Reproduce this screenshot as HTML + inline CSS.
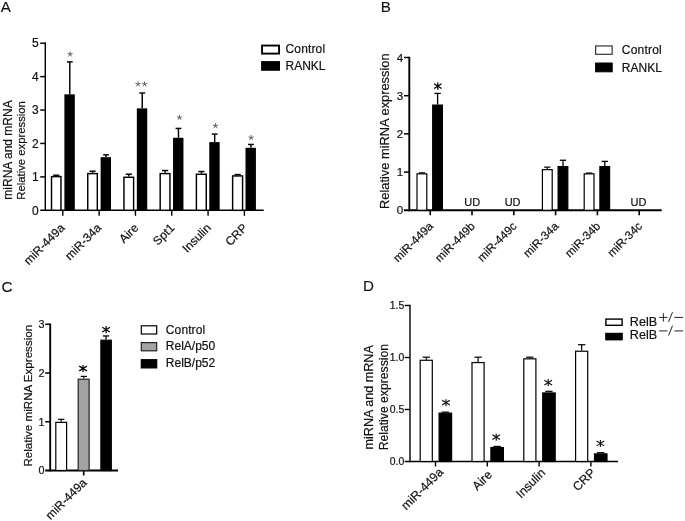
<!DOCTYPE html>
<html><head><meta charset="utf-8"><title>Figure</title>
<style>
html,body{margin:0;padding:0;background:#fff;}
body{width:685px;height:521px;overflow:hidden;font-family:"Liberation Sans",sans-serif;}
svg{display:block;will-change:transform;transform:translateZ(0);}
svg text{font-family:"Liberation Sans",sans-serif;stroke:#111;stroke-width:0.2px;}
</style></head><body>
<svg width="685" height="521" viewBox="0 0 685 521">
<rect x="0" y="0" width="685" height="521" fill="#fff"/>
<text x="0.80" y="12.10" font-size="15.2" text-anchor="start" fill="#111" stroke-width="0.1" style="stroke-width:0.1px">A</text>
<line x1="45.30" y1="42.47" x2="45.30" y2="211.03" stroke="#000" stroke-width="1.45"/>
<line x1="40.20" y1="210.30" x2="263.70" y2="210.30" stroke="#000" stroke-width="1.45"/>
<text x="38.80" y="214.50" font-size="12" text-anchor="end" fill="#111" >0</text>
<line x1="40.20" y1="176.88" x2="45.30" y2="176.88" stroke="#000" stroke-width="1.45"/>
<text x="38.80" y="181.08" font-size="12" text-anchor="end" fill="#111" >1</text>
<line x1="40.20" y1="143.46" x2="45.30" y2="143.46" stroke="#000" stroke-width="1.45"/>
<text x="38.80" y="147.66" font-size="12" text-anchor="end" fill="#111" >2</text>
<line x1="40.20" y1="110.04" x2="45.30" y2="110.04" stroke="#000" stroke-width="1.45"/>
<text x="38.80" y="114.24" font-size="12" text-anchor="end" fill="#111" >3</text>
<line x1="40.20" y1="76.62" x2="45.30" y2="76.62" stroke="#000" stroke-width="1.45"/>
<text x="38.80" y="80.82" font-size="12" text-anchor="end" fill="#111" >4</text>
<line x1="40.20" y1="43.20" x2="45.30" y2="43.20" stroke="#000" stroke-width="1.45"/>
<text x="38.80" y="47.40" font-size="12" text-anchor="end" fill="#111" >5</text>
<text transform="translate(12.30,150.00) rotate(-90)" font-size="12" text-anchor="middle" fill="#111" >miRNA and mRNA</text>
<text transform="translate(25.00,150.40) rotate(-90)" font-size="11.3" text-anchor="middle" fill="#111" >Relative expression</text>
<line x1="62.80" y1="210.30" x2="62.80" y2="215.80" stroke="#000" stroke-width="1.4"/>
<rect x="51.52" y="176.60" width="9.45" height="33.70" fill="#fff" stroke="#000" stroke-width="1.45"/>
<line x1="56.30" y1="175.21" x2="56.30" y2="175.88" stroke="#000" stroke-width="1.45"/>
<line x1="53.20" y1="175.21" x2="59.40" y2="175.21" stroke="#000" stroke-width="1.45"/>
<rect x="65.12" y="95.06" width="8.95" height="115.24" fill="#000" stroke="#000" stroke-width="1.45"/>
<line x1="69.80" y1="61.92" x2="69.80" y2="94.33" stroke="#000" stroke-width="1.45"/>
<line x1="66.90" y1="61.92" x2="72.70" y2="61.92" stroke="#000" stroke-width="1.45"/>
<line x1="70.10" y1="54.20" x2="70.10" y2="51.50" stroke="#444" stroke-width="0.85"/>
<line x1="70.10" y1="54.20" x2="72.67" y2="53.37" stroke="#444" stroke-width="0.85"/>
<line x1="70.10" y1="54.20" x2="71.69" y2="56.38" stroke="#444" stroke-width="0.85"/>
<line x1="70.10" y1="54.20" x2="68.51" y2="56.38" stroke="#444" stroke-width="0.85"/>
<line x1="70.10" y1="54.20" x2="67.53" y2="53.37" stroke="#444" stroke-width="0.85"/>
<text transform="translate(65.50,228.60) rotate(-45)" font-size="12" text-anchor="end" fill="#111" >miR-449a</text>
<line x1="99.12" y1="210.30" x2="99.12" y2="215.80" stroke="#000" stroke-width="1.4"/>
<rect x="87.75" y="173.59" width="9.55" height="36.71" fill="#fff" stroke="#000" stroke-width="1.45"/>
<line x1="92.57" y1="171.20" x2="92.57" y2="172.87" stroke="#000" stroke-width="1.45"/>
<line x1="89.47" y1="171.20" x2="95.67" y2="171.20" stroke="#000" stroke-width="1.45"/>
<rect x="101.34" y="157.89" width="8.95" height="52.41" fill="#000" stroke="#000" stroke-width="1.45"/>
<line x1="106.02" y1="154.82" x2="106.02" y2="157.16" stroke="#000" stroke-width="1.45"/>
<line x1="103.12" y1="154.82" x2="108.92" y2="154.82" stroke="#000" stroke-width="1.45"/>
<text transform="translate(102.02,228.60) rotate(-45)" font-size="12" text-anchor="end" fill="#111" >miR-34a</text>
<line x1="135.44" y1="210.30" x2="135.44" y2="215.80" stroke="#000" stroke-width="1.4"/>
<rect x="123.96" y="177.27" width="9.65" height="33.03" fill="#fff" stroke="#000" stroke-width="1.45"/>
<line x1="128.84" y1="174.21" x2="128.84" y2="176.55" stroke="#000" stroke-width="1.45"/>
<line x1="125.74" y1="174.21" x2="131.94" y2="174.21" stroke="#000" stroke-width="1.45"/>
<rect x="137.56" y="109.09" width="8.95" height="101.21" fill="#000" stroke="#000" stroke-width="1.45"/>
<line x1="142.24" y1="93.00" x2="142.24" y2="108.37" stroke="#000" stroke-width="1.45"/>
<line x1="139.34" y1="93.00" x2="145.14" y2="93.00" stroke="#000" stroke-width="1.45"/>
<line x1="138.00" y1="84.20" x2="138.00" y2="81.50" stroke="#444" stroke-width="0.85"/>
<line x1="138.00" y1="84.20" x2="140.57" y2="83.37" stroke="#444" stroke-width="0.85"/>
<line x1="138.00" y1="84.20" x2="139.59" y2="86.38" stroke="#444" stroke-width="0.85"/>
<line x1="138.00" y1="84.20" x2="136.41" y2="86.38" stroke="#444" stroke-width="0.85"/>
<line x1="138.00" y1="84.20" x2="135.43" y2="83.37" stroke="#444" stroke-width="0.85"/>
<line x1="144.60" y1="84.20" x2="144.60" y2="81.50" stroke="#444" stroke-width="0.85"/>
<line x1="144.60" y1="84.20" x2="147.17" y2="83.37" stroke="#444" stroke-width="0.85"/>
<line x1="144.60" y1="84.20" x2="146.19" y2="86.38" stroke="#444" stroke-width="0.85"/>
<line x1="144.60" y1="84.20" x2="143.01" y2="86.38" stroke="#444" stroke-width="0.85"/>
<line x1="144.60" y1="84.20" x2="142.03" y2="83.37" stroke="#444" stroke-width="0.85"/>
<text transform="translate(139.14,228.60) rotate(-45)" font-size="12" text-anchor="end" fill="#111" >Aire</text>
<line x1="171.76" y1="210.30" x2="171.76" y2="215.80" stroke="#000" stroke-width="1.4"/>
<rect x="160.18" y="173.59" width="9.75" height="36.71" fill="#fff" stroke="#000" stroke-width="1.45"/>
<line x1="165.11" y1="170.53" x2="165.11" y2="172.87" stroke="#000" stroke-width="1.45"/>
<line x1="162.01" y1="170.53" x2="168.21" y2="170.53" stroke="#000" stroke-width="1.45"/>
<rect x="173.78" y="138.50" width="8.95" height="71.80" fill="#000" stroke="#000" stroke-width="1.45"/>
<line x1="178.46" y1="128.42" x2="178.46" y2="137.78" stroke="#000" stroke-width="1.45"/>
<line x1="175.56" y1="128.42" x2="181.36" y2="128.42" stroke="#000" stroke-width="1.45"/>
<line x1="179.50" y1="117.60" x2="179.50" y2="114.90" stroke="#444" stroke-width="0.85"/>
<line x1="179.50" y1="117.60" x2="182.07" y2="116.77" stroke="#444" stroke-width="0.85"/>
<line x1="179.50" y1="117.60" x2="181.09" y2="119.78" stroke="#444" stroke-width="0.85"/>
<line x1="179.50" y1="117.60" x2="177.91" y2="119.78" stroke="#444" stroke-width="0.85"/>
<line x1="179.50" y1="117.60" x2="176.93" y2="116.77" stroke="#444" stroke-width="0.85"/>
<text transform="translate(175.26,228.60) rotate(-45)" font-size="12" text-anchor="end" fill="#111" >Spt1</text>
<line x1="208.08" y1="210.30" x2="208.08" y2="215.80" stroke="#000" stroke-width="1.4"/>
<rect x="196.40" y="174.26" width="9.85" height="36.04" fill="#fff" stroke="#000" stroke-width="1.45"/>
<line x1="201.38" y1="171.53" x2="201.38" y2="173.54" stroke="#000" stroke-width="1.45"/>
<line x1="198.28" y1="171.53" x2="204.48" y2="171.53" stroke="#000" stroke-width="1.45"/>
<rect x="210.00" y="142.85" width="8.95" height="67.45" fill="#000" stroke="#000" stroke-width="1.45"/>
<line x1="214.68" y1="134.10" x2="214.68" y2="142.12" stroke="#000" stroke-width="1.45"/>
<line x1="211.78" y1="134.10" x2="217.58" y2="134.10" stroke="#000" stroke-width="1.45"/>
<line x1="215.50" y1="125.90" x2="215.50" y2="123.20" stroke="#444" stroke-width="0.85"/>
<line x1="215.50" y1="125.90" x2="218.07" y2="125.07" stroke="#444" stroke-width="0.85"/>
<line x1="215.50" y1="125.90" x2="217.09" y2="128.08" stroke="#444" stroke-width="0.85"/>
<line x1="215.50" y1="125.90" x2="213.91" y2="128.08" stroke="#444" stroke-width="0.85"/>
<line x1="215.50" y1="125.90" x2="212.93" y2="125.07" stroke="#444" stroke-width="0.85"/>
<text transform="translate(211.68,228.60) rotate(-45)" font-size="12" text-anchor="end" fill="#111" >Insulin</text>
<line x1="244.40" y1="210.30" x2="244.40" y2="215.80" stroke="#000" stroke-width="1.4"/>
<rect x="232.62" y="175.93" width="9.95" height="34.37" fill="#fff" stroke="#000" stroke-width="1.45"/>
<line x1="237.65" y1="174.54" x2="237.65" y2="175.21" stroke="#000" stroke-width="1.45"/>
<line x1="234.55" y1="174.54" x2="240.75" y2="174.54" stroke="#000" stroke-width="1.45"/>
<rect x="246.22" y="148.53" width="8.95" height="61.77" fill="#000" stroke="#000" stroke-width="1.45"/>
<line x1="250.90" y1="144.46" x2="250.90" y2="147.80" stroke="#000" stroke-width="1.45"/>
<line x1="248.00" y1="144.46" x2="253.80" y2="144.46" stroke="#000" stroke-width="1.45"/>
<line x1="251.10" y1="137.70" x2="251.10" y2="135.00" stroke="#444" stroke-width="0.85"/>
<line x1="251.10" y1="137.70" x2="253.67" y2="136.87" stroke="#444" stroke-width="0.85"/>
<line x1="251.10" y1="137.70" x2="252.69" y2="139.88" stroke="#444" stroke-width="0.85"/>
<line x1="251.10" y1="137.70" x2="249.51" y2="139.88" stroke="#444" stroke-width="0.85"/>
<line x1="251.10" y1="137.70" x2="248.53" y2="136.87" stroke="#444" stroke-width="0.85"/>
<text transform="translate(248.10,228.60) rotate(-45)" font-size="12" text-anchor="end" fill="#111" >CRP</text>
<rect x="262.05" y="45.55" width="17.00" height="8.05" fill="#fff" stroke="#000" stroke-width="1.9"/>
<rect x="261.90" y="61.90" width="17.30" height="8.10" fill="#000" stroke="#000" stroke-width="1.6"/>
<text x="285.50" y="53.20" font-size="12" text-anchor="start" fill="#111" textLength="39.6">Control</text>
<text x="285.50" y="69.60" font-size="12" text-anchor="start" fill="#111" >RANKL</text>
<text x="380.70" y="12.10" font-size="15.2" text-anchor="start" fill="#111" style="stroke-width:0.1px">B</text>
<line x1="409.30" y1="56.80" x2="409.30" y2="211.25" stroke="#000" stroke-width="1.9"/>
<line x1="404.00" y1="210.30" x2="661.70" y2="210.30" stroke="#000" stroke-width="1.9"/>
<text x="403.20" y="214.45" font-size="11.6" text-anchor="end" fill="#111" >0</text>
<line x1="404.00" y1="172.10" x2="409.30" y2="172.10" stroke="#000" stroke-width="1.5"/>
<text x="403.20" y="176.25" font-size="11.6" text-anchor="end" fill="#111" >1</text>
<line x1="404.00" y1="133.90" x2="409.30" y2="133.90" stroke="#000" stroke-width="1.5"/>
<text x="403.20" y="138.05" font-size="11.6" text-anchor="end" fill="#111" >2</text>
<line x1="404.00" y1="95.70" x2="409.30" y2="95.70" stroke="#000" stroke-width="1.5"/>
<text x="403.20" y="99.85" font-size="11.6" text-anchor="end" fill="#111" >3</text>
<line x1="404.00" y1="57.50" x2="409.30" y2="57.50" stroke="#000" stroke-width="1.5"/>
<text x="403.20" y="61.65" font-size="11.6" text-anchor="end" fill="#111" >4</text>
<text transform="translate(388.80,131.20) rotate(-90)" font-size="12.85" text-anchor="middle" fill="#111" >Relative miRNA expression</text>
<line x1="430.20" y1="210.30" x2="430.20" y2="215.30" stroke="#000" stroke-width="1.6"/>
<rect x="417.00" y="173.85" width="9.80" height="36.45" fill="#fff" stroke="#000" stroke-width="1.2"/>
<line x1="421.90" y1="172.86" x2="421.90" y2="173.25" stroke="#000" stroke-width="1.2"/>
<line x1="418.70" y1="172.86" x2="425.10" y2="172.86" stroke="#000" stroke-width="1.2"/>
<rect x="432.70" y="105.09" width="9.70" height="105.21" fill="#000" stroke="#000" stroke-width="1.2"/>
<line x1="437.60" y1="93.41" x2="437.60" y2="104.49" stroke="#000" stroke-width="1.3"/>
<line x1="434.40" y1="93.41" x2="440.80" y2="93.41" stroke="#000" stroke-width="1.3"/>
<text transform="translate(433.90,226.80) rotate(-45)" font-size="11.7" text-anchor="end" fill="#111" >miR-449a</text>
<line x1="472.00" y1="210.30" x2="472.00" y2="215.30" stroke="#000" stroke-width="1.6"/>
<text x="472.30" y="205.90" font-size="11" text-anchor="middle" fill="#111" >UD</text>
<text transform="translate(475.70,226.80) rotate(-45)" font-size="11.7" text-anchor="end" fill="#111" >miR-449b</text>
<line x1="513.80" y1="210.30" x2="513.80" y2="215.30" stroke="#000" stroke-width="1.6"/>
<text x="512.60" y="205.90" font-size="11" text-anchor="middle" fill="#111" >UD</text>
<text transform="translate(517.50,226.80) rotate(-45)" font-size="11.7" text-anchor="end" fill="#111" >miR-449c</text>
<line x1="555.60" y1="210.30" x2="555.60" y2="215.30" stroke="#000" stroke-width="1.6"/>
<rect x="542.40" y="169.64" width="9.80" height="40.66" fill="#fff" stroke="#000" stroke-width="1.2"/>
<line x1="547.30" y1="167.13" x2="547.30" y2="169.04" stroke="#000" stroke-width="1.2"/>
<line x1="544.10" y1="167.13" x2="550.50" y2="167.13" stroke="#000" stroke-width="1.2"/>
<rect x="558.10" y="166.59" width="9.70" height="43.71" fill="#000" stroke="#000" stroke-width="1.2"/>
<line x1="563.00" y1="160.26" x2="563.00" y2="165.99" stroke="#000" stroke-width="1.3"/>
<line x1="559.80" y1="160.26" x2="566.20" y2="160.26" stroke="#000" stroke-width="1.3"/>
<text transform="translate(559.30,226.80) rotate(-45)" font-size="11.7" text-anchor="end" fill="#111" >miR-34a</text>
<line x1="597.40" y1="210.30" x2="597.40" y2="215.30" stroke="#000" stroke-width="1.6"/>
<rect x="584.20" y="173.85" width="9.80" height="36.45" fill="#fff" stroke="#000" stroke-width="1.2"/>
<line x1="589.10" y1="173.06" x2="589.10" y2="173.25" stroke="#000" stroke-width="1.2"/>
<line x1="585.90" y1="173.06" x2="592.30" y2="173.06" stroke="#000" stroke-width="1.2"/>
<rect x="599.90" y="166.59" width="9.70" height="43.71" fill="#000" stroke="#000" stroke-width="1.2"/>
<line x1="604.80" y1="161.40" x2="604.80" y2="165.99" stroke="#000" stroke-width="1.3"/>
<line x1="601.60" y1="161.40" x2="608.00" y2="161.40" stroke="#000" stroke-width="1.3"/>
<text transform="translate(601.10,226.80) rotate(-45)" font-size="11.7" text-anchor="end" fill="#111" >miR-34b</text>
<line x1="639.20" y1="210.30" x2="639.20" y2="215.30" stroke="#000" stroke-width="1.6"/>
<text x="638.50" y="205.90" font-size="11" text-anchor="middle" fill="#111" >UD</text>
<text transform="translate(642.90,226.80) rotate(-45)" font-size="11.7" text-anchor="end" fill="#111" >miR-34c</text>
<line x1="437.80" y1="82.50" x2="437.80" y2="89.70" stroke="#000" stroke-width="1.3"/>
<line x1="434.07" y1="83.77" x2="441.53" y2="88.43" stroke="#000" stroke-width="1.3"/>
<line x1="434.07" y1="88.43" x2="441.53" y2="83.77" stroke="#000" stroke-width="1.3"/>
<rect x="595.65" y="45.95" width="16.50" height="8.35" fill="#fff" stroke="#222" stroke-width="1.1"/>
<rect x="595.60" y="63.00" width="16.60" height="8.80" fill="#000" stroke="#000" stroke-width="1.0"/>
<text x="621.80" y="54.40" font-size="12" text-anchor="start" fill="#111" textLength="39.9">Control</text>
<text x="621.80" y="71.60" font-size="12" text-anchor="start" fill="#111" >RANKL</text>
<text x="1.40" y="291.50" font-size="15.2" text-anchor="start" fill="#111" style="stroke-width:0.1px">C</text>
<line x1="50.20" y1="323.55" x2="50.20" y2="471.45" stroke="#000" stroke-width="1.9"/>
<line x1="45.20" y1="470.50" x2="118.00" y2="470.50" stroke="#000" stroke-width="1.9"/>
<text x="44.60" y="474.40" font-size="10.8" text-anchor="end" fill="#111" >0</text>
<line x1="45.20" y1="421.75" x2="50.20" y2="421.75" stroke="#000" stroke-width="1.5"/>
<text x="44.60" y="425.65" font-size="10.8" text-anchor="end" fill="#111" >1</text>
<line x1="45.20" y1="373.00" x2="50.20" y2="373.00" stroke="#000" stroke-width="1.5"/>
<text x="44.60" y="376.90" font-size="10.8" text-anchor="end" fill="#111" >2</text>
<line x1="45.20" y1="324.25" x2="50.20" y2="324.25" stroke="#000" stroke-width="1.5"/>
<text x="44.60" y="328.15" font-size="10.8" text-anchor="end" fill="#111" >3</text>
<text transform="translate(31.70,395.70) rotate(-90)" font-size="11.6" text-anchor="middle" fill="#111" >Relative miRNA Expression</text>
<line x1="83.70" y1="470.50" x2="83.70" y2="475.50" stroke="#000" stroke-width="1.6"/>
<rect x="55.80" y="422.35" width="10.80" height="48.15" fill="#fff" stroke="#000" stroke-width="1.2"/>
<line x1="61.20" y1="419.31" x2="61.20" y2="421.75" stroke="#000" stroke-width="1.2"/>
<line x1="58.10" y1="419.31" x2="64.30" y2="419.31" stroke="#000" stroke-width="1.2"/>
<rect x="78.20" y="379.21" width="10.90" height="91.29" fill="#a3a3a3" stroke="#222" stroke-width="1.2"/>
<line x1="83.80" y1="376.41" x2="83.80" y2="378.61" stroke="#000" stroke-width="1.2"/>
<line x1="80.70" y1="376.41" x2="86.90" y2="376.41" stroke="#000" stroke-width="1.2"/>
<rect x="100.90" y="340.21" width="10.40" height="130.29" fill="#000" stroke="#000" stroke-width="1.2"/>
<line x1="106.00" y1="335.95" x2="106.00" y2="339.61" stroke="#000" stroke-width="1.3"/>
<line x1="102.90" y1="335.95" x2="109.10" y2="335.95" stroke="#000" stroke-width="1.3"/>
<line x1="83.00" y1="364.90" x2="83.00" y2="372.10" stroke="#000" stroke-width="1.25"/>
<line x1="79.18" y1="366.12" x2="86.82" y2="370.88" stroke="#000" stroke-width="1.25"/>
<line x1="79.18" y1="370.88" x2="86.82" y2="366.12" stroke="#000" stroke-width="1.25"/>
<line x1="106.10" y1="326.10" x2="106.10" y2="333.30" stroke="#000" stroke-width="1.25"/>
<line x1="102.28" y1="327.32" x2="109.92" y2="332.08" stroke="#000" stroke-width="1.25"/>
<line x1="102.28" y1="332.08" x2="109.92" y2="327.32" stroke="#000" stroke-width="1.25"/>
<text transform="translate(87.40,483.40) rotate(-45)" font-size="12" text-anchor="end" fill="#111" >miR-449a</text>
<rect x="141.30" y="325.80" width="15.40" height="8.20" fill="#fff" stroke="#000" stroke-width="1.2"/>
<rect x="141.30" y="342.60" width="15.40" height="8.20" fill="#a3a3a3" stroke="#222" stroke-width="1.2"/>
<rect x="141.30" y="359.70" width="15.40" height="8.20" fill="#000" stroke="#000" stroke-width="1.2"/>
<text x="165.80" y="334.00" font-size="12" text-anchor="start" fill="#111" textLength="39.4">Control</text>
<text x="165.80" y="350.40" font-size="12" text-anchor="start" fill="#111" >RelA/p50</text>
<text x="165.80" y="367.20" font-size="12" text-anchor="start" fill="#111" >RelB/p52</text>
<text x="363.10" y="291.20" font-size="15.2" text-anchor="start" fill="#111" style="stroke-width:0.1px">D</text>
<line x1="410.00" y1="304.80" x2="410.00" y2="462.20" stroke="#000" stroke-width="1.4"/>
<line x1="404.60" y1="461.50" x2="618.00" y2="461.50" stroke="#000" stroke-width="1.4"/>
<text x="404.30" y="465.05" font-size="10.4" text-anchor="end" fill="#111" >0.0</text>
<line x1="404.60" y1="409.50" x2="410.00" y2="409.50" stroke="#000" stroke-width="1.4"/>
<text x="404.30" y="413.05" font-size="10.4" text-anchor="end" fill="#111" >0.5</text>
<line x1="404.60" y1="357.50" x2="410.00" y2="357.50" stroke="#000" stroke-width="1.4"/>
<text x="404.30" y="361.05" font-size="10.4" text-anchor="end" fill="#111" >1.0</text>
<line x1="404.60" y1="305.50" x2="410.00" y2="305.50" stroke="#000" stroke-width="1.4"/>
<text x="404.30" y="309.05" font-size="10.4" text-anchor="end" fill="#111" >1.5</text>
<text transform="translate(373.20,397.30) rotate(-90)" font-size="12.6" text-anchor="middle" fill="#111" >miRNA and mRNA</text>
<text transform="translate(387.50,397.20) rotate(-90)" font-size="12.2" text-anchor="middle" fill="#111" >Relative expression</text>
<line x1="435.50" y1="461.50" x2="435.50" y2="466.50" stroke="#000" stroke-width="1.4"/>
<rect x="420.20" y="360.28" width="12.10" height="101.22" fill="#fff" stroke="#000" stroke-width="1.2"/>
<line x1="426.30" y1="357.19" x2="426.30" y2="359.68" stroke="#000" stroke-width="1.2"/>
<line x1="422.60" y1="357.19" x2="430.00" y2="357.19" stroke="#000" stroke-width="1.2"/>
<rect x="439.10" y="413.12" width="12.50" height="48.38" fill="#000" stroke="#000" stroke-width="1.2"/>
<line x1="445.30" y1="412.10" x2="445.30" y2="412.52" stroke="#000" stroke-width="1.2"/>
<line x1="441.60" y1="412.10" x2="449.00" y2="412.10" stroke="#000" stroke-width="1.2"/>
<line x1="446.00" y1="399.22" x2="446.00" y2="406.22" stroke="#111" stroke-width="1.15"/>
<line x1="442.18" y1="400.33" x2="449.82" y2="405.10" stroke="#111" stroke-width="1.15"/>
<line x1="442.18" y1="405.10" x2="449.82" y2="400.33" stroke="#111" stroke-width="1.15"/>
<text transform="translate(444.00,472.90) rotate(-45)" font-size="12.3" text-anchor="end" fill="#111" >miR-449a</text>
<line x1="487.30" y1="461.50" x2="487.30" y2="466.50" stroke="#000" stroke-width="1.4"/>
<rect x="472.00" y="362.57" width="12.10" height="98.93" fill="#fff" stroke="#000" stroke-width="1.2"/>
<line x1="478.10" y1="357.19" x2="478.10" y2="361.97" stroke="#000" stroke-width="1.2"/>
<line x1="474.40" y1="357.19" x2="481.80" y2="357.19" stroke="#000" stroke-width="1.2"/>
<rect x="490.90" y="447.54" width="12.50" height="13.96" fill="#000" stroke="#000" stroke-width="1.2"/>
<line x1="497.10" y1="446.42" x2="497.10" y2="446.94" stroke="#000" stroke-width="1.2"/>
<line x1="493.40" y1="446.42" x2="500.80" y2="446.42" stroke="#000" stroke-width="1.2"/>
<line x1="496.20" y1="433.64" x2="496.20" y2="440.64" stroke="#111" stroke-width="1.15"/>
<line x1="492.38" y1="434.76" x2="500.02" y2="439.52" stroke="#111" stroke-width="1.15"/>
<line x1="492.38" y1="439.52" x2="500.02" y2="434.76" stroke="#111" stroke-width="1.15"/>
<text transform="translate(492.80,475.50) rotate(-45)" font-size="12.3" text-anchor="end" fill="#111" >Aire</text>
<line x1="539.10" y1="461.50" x2="539.10" y2="466.50" stroke="#000" stroke-width="1.4"/>
<rect x="523.80" y="358.83" width="12.10" height="102.67" fill="#fff" stroke="#000" stroke-width="1.2"/>
<line x1="529.90" y1="357.19" x2="529.90" y2="358.23" stroke="#000" stroke-width="1.2"/>
<line x1="526.20" y1="357.19" x2="533.60" y2="357.19" stroke="#000" stroke-width="1.2"/>
<rect x="542.70" y="392.94" width="12.50" height="68.56" fill="#000" stroke="#000" stroke-width="1.2"/>
<line x1="548.90" y1="391.30" x2="548.90" y2="392.34" stroke="#000" stroke-width="1.2"/>
<line x1="545.20" y1="391.30" x2="552.60" y2="391.30" stroke="#000" stroke-width="1.2"/>
<line x1="548.20" y1="379.04" x2="548.20" y2="386.04" stroke="#111" stroke-width="1.15"/>
<line x1="544.38" y1="380.16" x2="552.02" y2="384.92" stroke="#111" stroke-width="1.15"/>
<line x1="544.38" y1="384.92" x2="552.02" y2="380.16" stroke="#111" stroke-width="1.15"/>
<text transform="translate(546.10,473.50) rotate(-45)" font-size="12.3" text-anchor="end" fill="#111" >Insulin</text>
<line x1="590.90" y1="461.50" x2="590.90" y2="466.50" stroke="#000" stroke-width="1.4"/>
<rect x="575.60" y="351.24" width="12.10" height="110.26" fill="#fff" stroke="#000" stroke-width="1.2"/>
<line x1="581.70" y1="344.71" x2="581.70" y2="350.64" stroke="#000" stroke-width="1.2"/>
<line x1="578.00" y1="344.71" x2="585.40" y2="344.71" stroke="#000" stroke-width="1.2"/>
<rect x="594.50" y="453.88" width="12.50" height="7.62" fill="#000" stroke="#000" stroke-width="1.2"/>
<line x1="600.70" y1="452.66" x2="600.70" y2="453.28" stroke="#000" stroke-width="1.2"/>
<line x1="597.00" y1="452.66" x2="604.40" y2="452.66" stroke="#000" stroke-width="1.2"/>
<line x1="600.40" y1="439.98" x2="600.40" y2="446.98" stroke="#111" stroke-width="1.15"/>
<line x1="596.58" y1="441.10" x2="604.22" y2="445.87" stroke="#111" stroke-width="1.15"/>
<line x1="596.58" y1="445.87" x2="604.22" y2="441.10" stroke="#111" stroke-width="1.15"/>
<text transform="translate(596.20,473.50) rotate(-45)" font-size="12.3" text-anchor="end" fill="#111" >CRP</text>
<rect x="605.90" y="319.10" width="16.20" height="6.20" fill="#fff" stroke="#000" stroke-width="1.4"/>
<rect x="605.90" y="333.50" width="16.20" height="6.20" fill="#000" stroke="#000" stroke-width="1.4"/>
<text x="629.80" y="326.10" font-size="12.6" text-anchor="start" fill="#111" >RelB</text>
<text x="629.80" y="339.40" font-size="12.6" text-anchor="start" fill="#111" >RelB</text>
<line x1="659.20" y1="317.40" x2="667.50" y2="317.40" stroke="#222" stroke-width="1.0"/>
<line x1="663.35" y1="313.20" x2="663.35" y2="321.60" stroke="#222" stroke-width="1.0"/>
<line x1="668.50" y1="322.00" x2="672.50" y2="312.20" stroke="#222" stroke-width="1.0"/>
<line x1="674.40" y1="317.40" x2="683.10" y2="317.40" stroke="#222" stroke-width="1.0"/>
<line x1="659.20" y1="330.90" x2="667.50" y2="330.90" stroke="#222" stroke-width="1.0"/>
<line x1="668.50" y1="335.50" x2="672.50" y2="325.70" stroke="#222" stroke-width="1.0"/>
<line x1="674.40" y1="330.90" x2="683.10" y2="330.90" stroke="#222" stroke-width="1.0"/>
</svg>
</body></html>
